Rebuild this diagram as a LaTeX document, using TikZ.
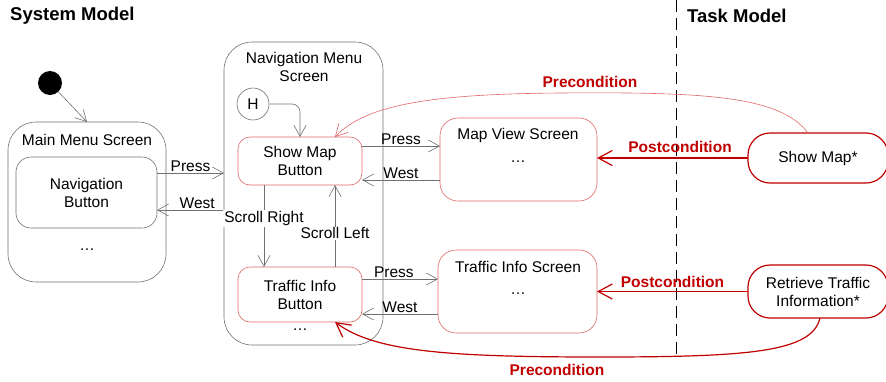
\documentclass[tikz,border=0pt]{standalone}
\usepackage{fontspec}
\setmainfont{Liberation Sans}
\usetikzlibrary{arrows.meta,positioning}
\definecolor{lnegray}{HTML}{707070}
\definecolor{lightred}{HTML}{E06666}
\definecolor{darkred}{HTML}{C00000}
\tikzset{
  txt/.style={font=\fontsize{15.5}{18}\selectfont,align=center,inner sep=1.5pt},
  hdr/.style={font=\fontsize{18.5}{21}\selectfont\bfseries,anchor=west,inner sep=0pt},
  stblk/.style={draw=lnegray,line width=0.6pt,rounded corners=28pt,inner sep=0pt,outer sep=0pt},
  btnblk/.style={draw=lnegray,line width=0.6pt,rounded corners=15pt,inner sep=0pt,outer sep=0pt},
  redblk/.style={draw=lightred,line width=0.6pt,rounded corners=12pt,inner sep=0pt,outer sep=0pt},
  scrblk/.style={draw=lightred,line width=0.6pt,rounded corners=18pt,inner sep=0pt,outer sep=0pt},
  taskblk/.style={draw=darkred,line width=1.2pt,rounded corners=22pt,inner sep=0pt,outer sep=0pt,txt},
  sarr/.style={-{Straight Barb[length=11pt,width=12pt]},draw=lnegray,line width=0.6pt},
  parr/.style={-{Straight Barb[length=14pt,width=15pt]},draw=darkred,line width=1.2pt},
  prearr/.style={-{Straight Barb[length=12pt,width=13pt]},draw=lightred,line width=0.6pt},
  lbl/.style={txt,inner sep=1pt},
  redlbl/.style={font=\fontsize{15.5}{18}\selectfont\bfseries,text=darkred,inner sep=1pt}
}
\begin{document}
\begin{tikzpicture}[x=1pt,y=-1pt]
  \useasboundingbox (0,0) rectangle (886,381);

  % headers and separator
  \node[hdr] (sysm) at (10,16) {System Model};
  \node[hdr] (taskm) at (687,16) {Task Model};
  \coordinate (sep1) at (676,0);
  \coordinate (sep2) at (676,356);
  \draw[line width=1pt,dash pattern=on 12pt off 6pt] (sep1) -- (sep2);

  % system model
  \node[circle,fill=black,minimum size=24pt,inner sep=0pt] (init) at (50,83) {};
  \node[stblk,minimum width=158pt,minimum height=160pt] (mm) at (87,202) {};
  \node[txt] (mmt) at (87,140) {Main Menu Screen};
  \node[btnblk,minimum width=141pt,minimum height=71pt,txt] (nb) at (86.5,192.5) {Navigation\\Button};
  \node[txt] (mmd) at (87,250) {\ldots};

  \node[stblk,minimum width=159pt,minimum height=303pt] (nms) at (303.5,193.5) {};
  \node[txt] (nmst) at (304,67) {Navigation Menu\\Screen};
  \node[circle,draw=lnegray,line width=0.6pt,minimum size=32pt,inner sep=0pt,txt] (hist) at (253,104) {H};
  \node[redblk,minimum width=124pt,minimum height=48pt,txt] (smb) at (300,161) {Show Map\\Button};
  \node[redblk,minimum width=124pt,minimum height=55pt,txt] (tib) at (300,294.5) {Traffic Info\\Button};
  \node[txt] (nmsd) at (300,330) {\ldots};

  \node[scrblk,minimum width=157pt,minimum height=83pt] (mvs) at (518.5,159.5) {};
  \node[txt] (mvst) at (518,135) {Map View Screen};
  \node[txt] (mvsd) at (518,162) {\ldots};
  \node[scrblk,minimum width=159pt,minimum height=83pt] (tis) at (517.5,291.5) {};
  \node[txt] (tist) at (518,267) {Traffic Info Screen};
  \node[txt] (tisd) at (518,294) {\ldots};

  % task model
  \node[taskblk,minimum width=140pt,minimum height=50pt] (tsm) at (818,158) {Show Map*};
  \node[taskblk,minimum width=140pt,minimum height=53pt] (trt) at (818,291.5) {Retrieve Traffic\\Information*};

  % rows and columns for the transitions
  \coordinate (r1) at (0,173);
  \coordinate (r2) at (0,210);
  \coordinate (r3) at (0,146);
  \coordinate (r4) at (0,180);
  \coordinate (r5) at (0,279);
  \coordinate (r6) at (0,314);
  \coordinate (c1) at (264,0);
  \coordinate (c2) at (335,0);

  \draw[sarr] (init) -- (mm.north);
  \draw[sarr] (nb.east |- r1) -- node[lbl,above] {Press} (nms.west |- r1);
  \draw[sarr] (nms.west |- r2) -- node[lbl,above,pos=0.4] {West} (nb.east |- r2);
  \draw[sarr,rounded corners=8pt] (hist.east) -| (smb.north);
  \draw[sarr] (smb.south -| c1) -- node[lbl,fill=white,pos=0.41] {Scroll Right} (tib.north -| c1);
  \draw[sarr] (tib.north -| c2) -- node[lbl,fill=white,pos=0.41] {Scroll Left} (smb.south -| c2);
  \draw[sarr] (smb.east |- r3) -- node[lbl,above] {Press} (mvs.west |- r3);
  \draw[sarr] (mvs.west |- r4) -- node[lbl,above] {West} (smb.east |- r4);
  \draw[sarr] (tib.east |- r5) -- node[lbl,above,pos=0.42] {Press} (tis.west |- r5);
  \draw[sarr] (tis.west |- r6) -- node[lbl,above] {West} (tib.east |- r6);

  % task to system links
  \draw[parr] (tsm.west) -- node[redlbl,above=4pt,pos=0.45] {Postcondition} (mvs.east |- tsm.west);
  \draw[parr] (trt.west) -- node[redlbl,above=2pt] {Postcondition} (tis.east |- trt.west);
  \draw[prearr] ([xshift=-10pt]tsm.north) .. controls (780,95) and (700,92) .. (560,93)
    .. controls (430,94) and (365,105) .. ([xshift=35pt]smb.north);
  \node[redlbl] (pre1) at (590,82) {Precondition};
  \draw[parr] ([xshift=2pt]trt.south) .. controls (812,352) and (750,357) .. (600,357)
    .. controls (450,357) and (375,352) .. ([xshift=35pt]tib.south);
  \node[redlbl] (pre2) at (557,370) {Precondition};
\end{tikzpicture}
\end{document}
